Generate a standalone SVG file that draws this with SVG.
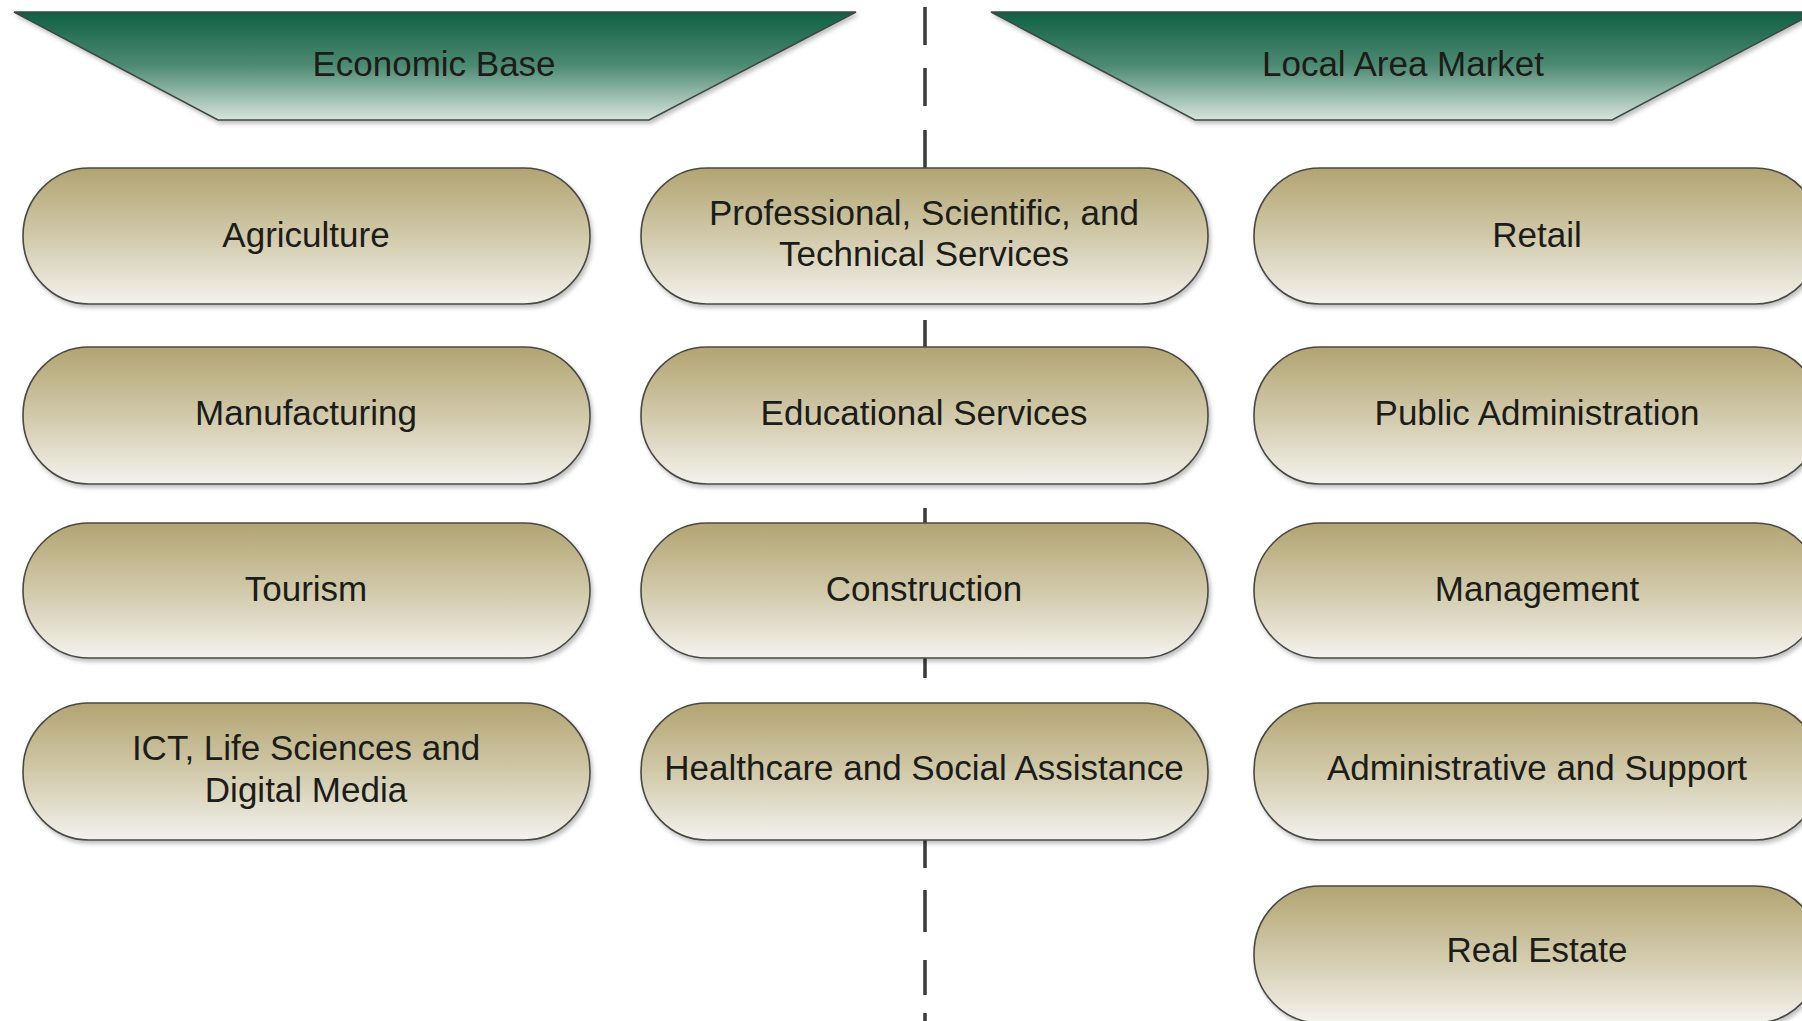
<svg xmlns="http://www.w3.org/2000/svg" width="1802" height="1021" viewBox="0 0 1802 1021">
  <defs>
    <linearGradient id="gPill" x1="0" y1="0" x2="0" y2="1">
      <stop offset="0" stop-color="#b2a472"/>
      <stop offset="0.5" stop-color="#d1c9aa"/>
      <stop offset="1" stop-color="#f3f2ee"/>
    </linearGradient>
    <linearGradient id="gHead" x1="0" y1="0" x2="0" y2="1">
      <stop offset="0" stop-color="#0f6044"/>
      <stop offset="0.5" stop-color="#4e8b74"/>
      <stop offset="1" stop-color="#d8e4de"/>
    </linearGradient>
    <filter id="sh" x="-5%" y="-10%" width="112%" height="130%">
      <feDropShadow dx="2" dy="3" stdDeviation="2" flood-color="#000" flood-opacity="0.25"/>
    </filter>
  </defs>
  <style>
    .pill { fill: url(#gPill); stroke: #4a4a44; stroke-width: 1.6; filter: url(#sh); }
    .head { fill: url(#gHead); stroke: #3c4a44; stroke-width: 1.6; filter: url(#sh); }
    .t { font-family: "Liberation Sans", Arial, sans-serif; font-size: 35px; fill: #1c1c18; text-anchor: middle; }
    .dash { stroke: #3a3a3a; stroke-width: 3.5; fill: none; }
  </style>
  <rect width="1802" height="1021" fill="#ffffff"/>

  <g id="connectors">
    <path class="dash" d="M925,7 V45 M925,68 V106 M925,130 V168 M925,320 V347 M925,508 V523 M925,658 V678 M925,838 V868 M925,890 V932 M925,960 V995 M925,1013 V1021"/>
  </g>

  <g id="header-economic-base">
    <polygon class="head" points="14,12 856,12 649,120 218,120"/>
    <text class="t" x="434" y="76">Economic Base</text>
  </g>
  <g id="header-local-area-market">
    <polygon class="head" points="991,12 1816,12 1612,120 1195,120"/>
    <text class="t" x="1403" y="76">Local Area Market</text>
  </g>

  <g id="n-agriculture">
    <rect class="pill" x="23" y="168" width="567" height="136" rx="66" ry="68"/>
    <text class="t" x="306" y="247">Agriculture</text>
  </g>
  <g id="n-manufacturing">
    <rect class="pill" x="23" y="347" width="567" height="137" rx="66" ry="68"/>
    <text class="t" x="306" y="425">Manufacturing</text>
  </g>
  <g id="n-tourism">
    <rect class="pill" x="23" y="523" width="567" height="135" rx="66" ry="68"/>
    <text class="t" x="306" y="601">Tourism</text>
  </g>
  <g id="n-ict">
    <rect class="pill" x="23" y="703" width="567" height="137" rx="66" ry="68"/>
    <text class="t" x="306" y="760">ICT, Life Sciences and</text>
    <text class="t" x="306" y="802">Digital Media</text>
  </g>

  <g id="n-professional">
    <rect class="pill" x="641" y="168" width="567" height="136" rx="66" ry="68"/>
    <text class="t" x="924" y="225">Professional, Scientific, and</text>
    <text class="t" x="924" y="266">Technical Services</text>
  </g>
  <g id="n-educational">
    <rect class="pill" x="641" y="347" width="567" height="137" rx="66" ry="68"/>
    <text class="t" x="924" y="425">Educational Services</text>
  </g>
  <g id="n-construction">
    <rect class="pill" x="641" y="523" width="567" height="135" rx="66" ry="68"/>
    <text class="t" x="924" y="601">Construction</text>
  </g>
  <g id="n-healthcare">
    <rect class="pill" x="641" y="703" width="567" height="137" rx="66" ry="68"/>
    <text class="t" x="924" y="780">Healthcare and Social Assistance</text>
  </g>

  <g id="n-retail">
    <rect class="pill" x="1254" y="168" width="567" height="136" rx="66" ry="68"/>
    <text class="t" x="1537" y="247">Retail</text>
  </g>
  <g id="n-public-admin">
    <rect class="pill" x="1254" y="347" width="567" height="137" rx="66" ry="68"/>
    <text class="t" x="1537" y="425">Public Administration</text>
  </g>
  <g id="n-management">
    <rect class="pill" x="1254" y="523" width="567" height="135" rx="66" ry="68"/>
    <text class="t" x="1537" y="601">Management</text>
  </g>
  <g id="n-admin-support">
    <rect class="pill" x="1254" y="703" width="567" height="137" rx="66" ry="68"/>
    <text class="t" x="1537" y="780">Administrative and Support</text>
  </g>
  <g id="n-real-estate">
    <rect class="pill" x="1254" y="886" width="567" height="137" rx="66" ry="68"/>
    <text class="t" x="1537" y="962">Real Estate</text>
  </g>
</svg>
